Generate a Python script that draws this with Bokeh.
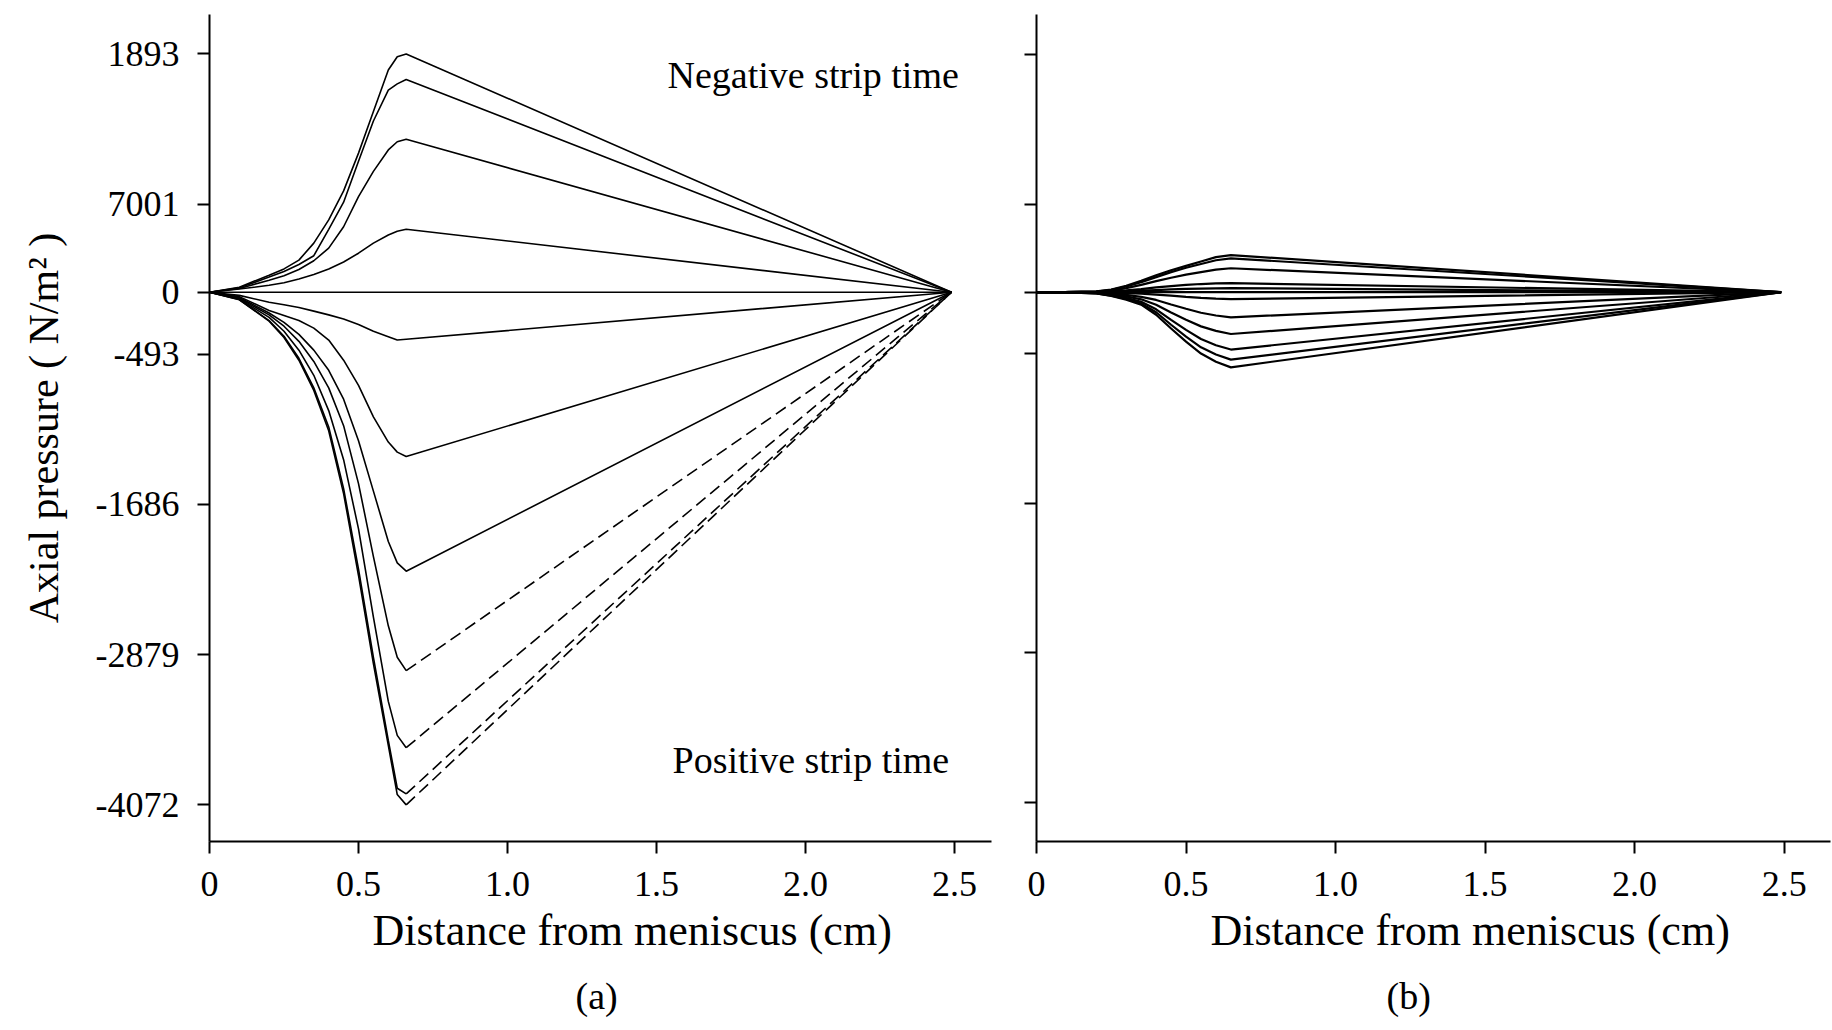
from bokeh.plotting import figure
from bokeh.layouts import row
from bokeh.models import Range1d, FixedTicker, Label, Title
from bokeh.embed import file_html
from bokeh.resources import INLINE

FONT = "Liberation Serif"

# ---------------- panel (a) ----------------
# distance from meniscus (cm)
dist_a = [0, 0.1, 0.2, 0.25, 0.3, 0.35, 0.4, 0.45, 0.5, 0.55, 0.6, 0.63, 0.66, 2.49]

# axial pressure (N/m^2) during the negative strip time
a_neg_1 = [0, 40, 135, 185, 255, 390, 575, 805, 1105, 1435, 1765, 1870, 1893, 0]
a_neg_2 = [0, 35, 120, 165, 220, 290, 500, 715, 1040, 1360, 1605, 1655, 1690, 0]
a_neg_3 = [0, 30, 95, 130, 180, 250, 350, 520, 760, 960, 1130, 1195, 1215, 0]
a_neg_4 = [0, 25, 55, 75, 105, 140, 185, 240, 310, 390, 455, 485, 500, 0]
a_zero = [0, 0, 0, 0, 0, 0, 0, 0, 0, 0, 0, 0, 0, 0]
# axial pressure (N/m^2) during the positive strip time
a_pos_1 = [0, -25, -80, -100, -122, -150, -180, -212, -257, -310, -353, -380, -374, 0]
a_pos_2 = [0, -35, -145, -185, -225, -285, -380, -540, -740, -990, -1190, -1270, -1305, 0]
a_pos_3 = [0, -42, -165, -240, -335, -460, -620, -850, -1180, -1580, -1980, -2150, -2216, 0]
a_pos_4 = [0, -48, -180, -270, -390, -550, -760, -1060, -1520, -2100, -2650, -2900, -3006, 0]
a_pos_5 = [0, -54, -200, -310, -460, -660, -940, -1330, -1880, -2580, -3250, -3520, -3618, 0]
a_pos_6 = [0, -58, -225, -350, -525, -760, -1070, -1560, -2200, -2900, -3560, -3940, -3985, 0]
a_pos_7 = [0, -60, -230, -360, -540, -780, -1100, -1600, -2250, -2950, -3600, -3990, -4072, 0]

# ---------------- panel (b) ----------------
dist_b = [0, 0.1, 0.2, 0.25, 0.3, 0.35, 0.4, 0.45, 0.5, 0.55, 0.6, 0.65, 2.49]

b_neg_1 = [0, 2, 6, 20, 50, 90, 135, 175, 210, 245, 280, 296, 0]
b_neg_2 = [0, 1, 5, 18, 45, 80, 120, 160, 195, 225, 255, 270, 0]
b_neg_3 = [0, 1, 4, 13, 32, 58, 88, 115, 140, 160, 180, 191, 0]
b_neg_4 = [0, 0, 2, 6, 14, 25, 38, 48, 58, 65, 70, 72, 0]
b_neg_5 = [0, 0, 1, 3, 7, 12, 17, 22, 26, 29, 31, 32, 0]
b_zero = [0, 0, 0, 0, 0, 0, 0, 0, 0, 0, 0, 0, 0]
b_pos_1 = [0, 0, -2, -4, -8, -12, -19, -28, -38, -46, -52, -56, 0]
b_pos_2 = [0, -1, -4, -11, -22, -37, -62, -98, -132, -164, -186, -201, 0]
b_pos_3 = [0, -1, -6, -17, -34, -57, -101, -162, -220, -273, -309, -334, 0]
b_pos_4 = [0, -1, -8, -23, -46, -77, -137, -221, -301, -374, -424, -458, 0]
b_pos_5 = [0, -2, -9, -27, -54, -90, -160, -260, -355, -440, -498, -538, 0]
b_pos_6 = [0, -2, -10, -30, -60, -100, -180, -290, -395, -490, -555, -600, 0]

# axis ticks and their printed labels
x_ticks = [0, 0.5, 1.0, 1.5, 2.0, 2.5]
x_tick_labels = ["0", "0.5", "1.0", "1.5", "2.0", "2.5"]
y_ticks = [1893, 700, 0, -493, -1686, -2879, -4072]
y_tick_labels = ["1893", "7001", "0", "-493", "-1686", "-2879", "-4072"]

x_title = "Distance from meniscus (cm)"
y_title = "Axial pressure ( N/m\u00b2 )"


def style_axis(ax, label_size="36px"):
    ax.axis_line_width = 2
    ax.axis_line_color = "black"
    ax.major_tick_line_width = 2
    ax.major_tick_line_color = "black"
    ax.major_tick_in = 0
    ax.major_tick_out = 12
    ax.minor_tick_line_color = None
    ax.major_label_text_font = FONT
    ax.major_label_text_font_size = label_size
    ax.major_label_text_color = "black"


def make_panel(width, x_end, y_start, y_end, border_left, border_right, border_top, y_labels):
    p = figure(width=width, height=1030,
               x_range=Range1d(0, x_end), y_range=Range1d(y_start, y_end),
               output_backend="svg", toolbar_location=None,
               min_border_left=border_left, min_border_right=border_right,
               min_border_top=border_top, min_border_bottom=189)
    p.outline_line_color = None
    p.grid.visible = False
    p.background_fill_color = "white"
    p.border_fill_color = "white"

    xa = p.xaxis[0]
    style_axis(xa)
    xa.ticker = FixedTicker(ticks=x_ticks)
    xa.major_label_overrides = dict(zip(x_ticks, x_tick_labels))
    xa.major_label_standoff = 18

    ya = p.yaxis[0]
    style_axis(ya, "36px" if y_labels else "0px")
    ya.ticker = FixedTicker(ticks=y_ticks)
    if y_labels:
        ya.major_label_overrides = dict(zip(y_ticks, y_tick_labels))
        ya.major_label_standoff = 18
    else:
        ya.major_label_overrides = {t: "" for t in y_ticks}
        ya.major_label_standoff = 0
    return p


def add_below(p, s, size, offset, standoff):
    p.add_layout(Title(text=s, align="left", offset=offset, standoff=standoff,
                       text_font=FONT, text_font_size=size, text_font_style="normal",
                       text_color="black"), "below")


def draw_curve(p, xs, ys, width, dashed_tail=False):
    if dashed_tail:
        k = ys.index(min(ys))
        p.line(xs[:k + 1], ys[:k + 1], line_color="black", line_width=width)
        p.line(xs[k:], ys[k:], line_color="black", line_width=width, line_dash="12 6")
    else:
        p.line(xs, ys, line_color="black", line_width=width)


def note(p, x, y, s, size):
    p.add_layout(Label(x=x, y=y, text=s, text_font=FONT, text_font_size=size,
                       text_color="black", text_align="left", text_baseline="middle"))


# ---- panel (a) ----
pa = make_panel(1010, 2.624, -4363, 2206, 209, 19, 14, True)
ya = pa.yaxis[0]
ya.axis_label = y_title
ya.axis_label_text_font = FONT
ya.axis_label_text_font_size = "42px"
ya.axis_label_text_font_style = "normal"
ya.axis_label_text_color = "black"
ya.axis_label_standoff = 26

for ys in (a_neg_1, a_neg_2, a_neg_3, a_neg_4, a_zero, a_pos_1, a_pos_2, a_pos_3):
    draw_curve(pa, dist_a, ys, 1.6)
for ys in (a_pos_4, a_pos_5, a_pos_6, a_pos_7):
    draw_curve(pa, dist_a, ys, 1.6, dashed_tail=True)

note(pa, 1.537, 1729, "Negative strip time", "38px")
note(pa, 1.554, -3712, "Positive strip time", "38px")
add_below(pa, x_title, "44px", 163, 11)
add_below(pa, "(a)", "38px", 366, 25)

# ---- panel (b) ----
pb = make_panel(822, 2.655, -4384, 2216, 26, 2, 10, False)
for ys in (b_neg_1, b_neg_2, b_neg_3, b_neg_4, b_neg_5, b_zero,
           b_pos_1, b_pos_2, b_pos_3, b_pos_4, b_pos_5, b_pos_6):
    draw_curve(pb, dist_b, ys, 2.2)

add_below(pb, x_title, "44px", 174, 11)
add_below(pb, "(b)", "38px", 350, 25)

layout = row(pa, pb, spacing=0)
open("out.html", "w").write(file_html(layout, INLINE))
